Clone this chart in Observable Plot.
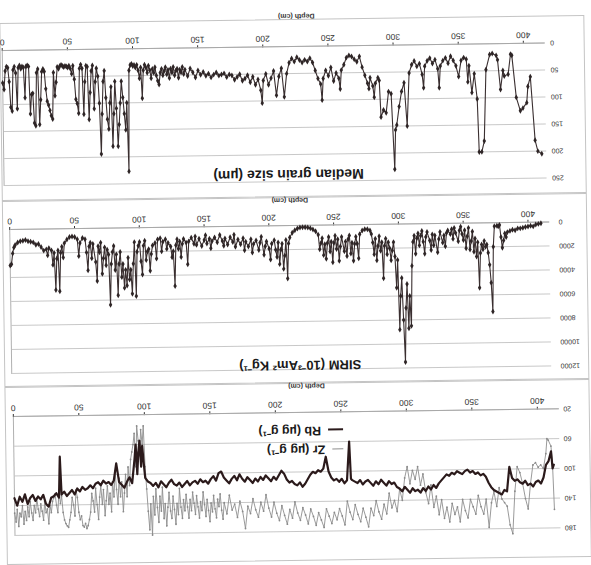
<!DOCTYPE html>
<html><head><meta charset="utf-8">
<script src="https://cdn.jsdelivr.net/npm/d3@7"></script>
<script src="https://cdn.jsdelivr.net/npm/@observablehq/plot@0.6"></script>
<style>
html,body{margin:0;padding:0;background:#fff;}
body{width:591px;height:565px;overflow:hidden;position:relative;}
#page{position:absolute;left:0;top:0;width:591px;height:565px;transform:rotate(179.2deg);transform-origin:50% 50%;font-family:"Liberation Sans",Arial,sans-serif;color:#222;}
.frame{position:absolute;left:3px;width:585px;border:1px solid #c4c4c4;box-sizing:border-box;}
.slot{position:absolute;left:0;width:591px;}
.slot svg{display:block;overflow:visible;}
.title{position:absolute;font-weight:bold;text-align:center;white-space:nowrap;color:#1a1a1a;}
.dlab{position:absolute;font-size:7px;font-weight:bold;text-align:center;width:80px;color:#333;}
.leg{position:absolute;font-size:12.5px;font-weight:bold;white-space:nowrap;color:#1a1a1a;line-height:14px;}
.leg i{display:inline-block;vertical-align:middle;margin-right:7px;}
[aria-label^="x-axis"] text{font-size:8.5px;fill:#333;}
[aria-label^="y-axis"] text{font-size:7px;fill:#333;}
</style>
</head><body>
<div id="page">
  <div class="frame" style="top:4px;height:178px"></div>
  <div class="frame" style="top:182px;height:186px"></div>
  <div class="frame" style="top:368px;height:178px"></div>
  <div class="slot" id="p3" style="top:0px"></div>
  <div class="slot" id="p2" style="top:182px"></div>
  <div class="slot" id="p1" style="top:368px"></div>
  <div class="dlab" style="left:246px;top:175px">Depth (cm)</div>
  <div class="dlab" style="left:260px;top:361px">Depth (cm)</div>
  <div class="dlab" style="left:251px;top:545px">Depth (cm)</div>
  <div class="title" id="t1" style="left:201px;width:200px;top:382px;font-size:14px;line-height:16px"></div>
  <div class="title" id="t2" style="left:192px;width:200px;top:192px;font-size:13px;line-height:16px"></div>
  <div class="leg" id="legZr" style="left:250px;top:108px"></div>
  <div class="leg" id="legRb" style="left:250px;top:127px"></div>
</div>
<script>
const depthTicks = [0,50,100,150,200,250,300,350,400];
const grainTicks = [0,50,100,150,200,250];
const sirmTicks = [0,2000,4000,6000,8000,10000,12000];
const elemTicks = [20,60,100,140,180];

const grainTitle = "Median grain size (µm)";
const sirmTitle = "SIRM (10⁻³Am² Kg⁻¹)";
const depthLabel = "Depth (cm)";
const zrName = "Zr (µg g⁻¹)";
const rbName = "Rb (µg g⁻¹)";

const grainSize = [[0,60],[1,72],[2,38],[3,30],[4,32],[5,58],[6,105],[7,112],[8,36],[9,30],[10,42],[11,108],[12,32],[13,28],[14,34],[15,30],[16,32],[17,88],[18,30],[19,28],[20,30],[21,118],[22,82],[23,80],[24,135],[25,140],[26,42],[27,35],[28,138],[29,92],[30,40],[31,35],[32,40],[33,72],[34,95],[35,102],[36,112],[37,122],[38,128],[39,42],[40,85],[41,60],[42,32],[43,35],[44,30],[45,28],[46,30],[47,32],[48,30],[49,31],[50,33],[51,30],[52,35],[53,45],[54,30],[55,55],[56,92],[57,100],[58,118],[59,35],[60,28],[61,35],[62,120],[63,60],[64,30],[65,32],[66,130],[67,80],[68,40],[69,30],[70,110],[71,60],[72,35],[73,50],[74,100],[75,194],[76,120],[77,60],[78,40],[79,90],[80,130],[81,148],[82,100],[83,70],[84,180],[85,120],[86,60],[87,110],[88,180],[89,140],[90,100],[91,60],[92,90],[93,120],[94,150],[95,100],[96,227],[97,40],[98,30],[99,28],[100,32],[101,30],[102,35],[103,30],[104,40],[105,55],[106,35],[107,92],[108,40],[109,30],[110,35],[111,45],[112,32],[113,40],[114,55],[115,38],[116,45],[117,35],[118,50],[119,60],[120,67],[121,45],[122,38],[123,50],[124,42],[125,35],[126,48],[127,40],[128,55],[129,38],[130,45],[131,35],[132,50],[133,42],[134,38],[135,55],[136,40],[137,45],[138,35],[139,48],[140,40],[142,52],[144,38],[146,45],[148,55],[150,42],[152,50],[154,45],[156,52],[158,48],[160,55],[162,50],[164,46],[166,52],[168,50],[170,48],[172,55],[174,50],[176,52],[178,60],[180,55],[182,50],[184,62],[186,58],[188,52],[190,65],[192,55],[194,70],[196,60],[198,80],[199,104],[200,62],[202,50],[204,70],[206,58],[208,45],[210,90],[212,55],[214,40],[216,93],[218,50],[220,30],[222,22],[224,28],[226,20],[228,25],[230,30],[232,25],[234,28],[236,22],[238,30],[240,45],[242,60],[244,70],[245,100],[246,60],[248,45],[250,55],[252,40],[254,65],[256,50],[258,60],[259,80],[260,45],[262,35],[264,22],[266,18],[268,20],[270,25],[272,30],[274,20],[276,40],[278,55],[280,70],[281,80],[282,60],[284,75],[285,96],[286,70],[288,60],[289,65],[290,133],[292,120],[294,125],[296,86],[298,90],[300,230],[301,157],[302,148],[304,114],[306,86],[308,70],[310,150],[312,52],[314,37],[316,30],[318,40],[320,35],[322,55],[323,80],[324,40],[326,30],[328,25],[330,35],[332,28],[334,45],[335,80],[336,40],[338,30],[340,25],[342,35],[344,22],[346,30],[348,40],[350,60],[352,30],[354,25],[356,28],[357,70],[358,40],[360,90],[362,55],[364,102],[365,200],[367,200],[369,180],[371,48],[374,20],[376,18],[379,22],[380,30],[382,85],[384,50],[385,60],[388,57],[390,20],[391,22],[394,100],[397,125],[399,120],[402,110],[403,80],[405,62],[408,180],[410,200],[413,205]];

const sirm = [[0,3000],[1,2900],[2,2000],[3,1500],[4,1300],[6,1100],[8,1000],[10,950],[12,900],[14,1000],[16,1050],[18,1100],[20,1300],[22,1250],[24,1500],[26,1800],[28,1700],[29,2200],[30,1600],[32,1800],[33,3000],[34,2000],[35,5100],[36,2500],[37,1800],[38,5200],[39,2000],[40,1500],[41,2400],[42,1200],[44,900],[46,700],[48,650],[50,700],[52,900],[53,2300],[54,1200],[56,800],[58,900],[59,2000],[60,3500],[61,1500],[62,1200],[63,2500],[64,1300],[66,2800],[67,4400],[68,1500],[69,2000],[70,1200],[71,3800],[72,2500],[73,1600],[74,3100],[75,1800],[76,2200],[77,6400],[78,3000],[79,2000],[80,1500],[81,3500],[82,2200],[83,5600],[84,3000],[85,2000],[86,4100],[87,3000],[88,5000],[89,3500],[90,4800],[91,2500],[92,4300],[93,3500],[94,5500],[95,3000],[96,1200],[97,5700],[98,2000],[99,1500],[100,1200],[101,2800],[102,3900],[103,1500],[104,1100],[105,2700],[106,2000],[107,1800],[108,3600],[109,2200],[110,1500],[112,1300],[113,2600],[114,1000],[116,900],[117,2000],[118,1200],[120,1000],[121,1800],[122,1300],[124,1600],[125,2500],[126,2000],[127,4900],[128,1500],[129,1000],[130,1800],[131,1200],[132,2500],[133,1400],[134,1000],[136,1300],[137,3100],[138,1200],[140,900],[142,1400],[143,800],[144,1500],[146,1000],[148,1600],[150,1100],[151,700],[152,1400],[154,1000],[155,1800],[156,1200],[158,900],[160,1300],[162,700],[164,1200],[165,1600],[166,1000],[168,1500],[170,900],[172,1300],[173,700],[174,1700],[176,1100],[178,1500],[180,1000],[181,2000],[182,1300],[184,1700],[186,1100],[187,2200],[188,1500],[190,1200],[192,2000],[193,1400],[194,900],[196,2400],[197,1700],[198,1300],[200,1900],[201,2800],[202,1500],[204,1200],[205,2000],[206,2600],[207,1400],[208,3200],[209,2000],[210,1500],[211,3600],[212,2500],[213,1200],[214,4400],[215,1500],[216,1000],[218,600],[220,400],[222,250],[224,180],[226,150],[228,150],[230,180],[232,250],[234,350],[236,500],[238,800],[239,2000],[240,1500],[241,1100],[242,2500],[243,1600],[244,2800],[245,1500],[246,1000],[247,2200],[248,1400],[249,3100],[250,1500],[251,900],[252,2000],[253,1200],[254,3000],[255,1800],[256,1000],[258,2200],[259,1400],[260,2600],[261,1200],[262,900],[263,2400],[264,1500],[265,3000],[266,1600],[267,1000],[268,1600],[269,2800],[270,800],[272,500],[274,400],[276,400],[278,500],[279,800],[280,1500],[281,2500],[282,1200],[283,3000],[284,1800],[285,1000],[286,2200],[287,1500],[288,4500],[289,1800],[290,1200],[291,2500],[292,1500],[293,2000],[294,3000],[295,2200],[296,1500],[297,2700],[298,5300],[299,3000],[300,8800],[301,6000],[302,4500],[303,8000],[304,11500],[305,7000],[306,5000],[307,8700],[308,6000],[309,8500],[310,3500],[311,1500],[312,1000],[313,2500],[314,1200],[315,800],[316,1800],[317,1000],[318,600],[319,1500],[320,2500],[321,1100],[322,700],[324,1400],[325,2200],[326,900],[327,1800],[328,1000],[330,2400],[331,1300],[332,700],[334,1600],[335,1000],[336,1900],[337,800],[338,600],[340,900],[341,500],[342,1300],[343,400],[344,800],[346,1500],[347,600],[348,300],[349,900],[350,1400],[351,600],[352,2100],[353,1100],[354,400],[355,2200],[356,1500],[357,700],[358,2400],[359,1300],[360,2800],[361,1600],[362,5400],[363,2500],[364,1800],[365,2200],[366,1500],[367,2000],[368,1800],[369,2500],[370,3500],[371,5000],[372,7400],[373,2000],[374,300],[376,250],[377,300],[378,200],[379,1200],[380,2100],[381,1500],[382,900],[383,1200],[384,800],[386,700],[388,600],[390,650],[392,500],[394,500],[396,450],[398,400],[400,350],[402,300],[404,350],[406,200],[408,150],[410,100]];

const rb = [[0,130],[2,140],[4,128],[6,135],[8,125],[10,138],[12,130],[14,126],[16,134],[18,128],[20,132],[22,126],[24,138],[26,142],[28,130],[30,128],[32,124],[34,130],[35,75],[36,126],[38,122],[40,128],[42,124],[44,120],[46,126],[48,118],[50,122],[52,116],[54,120],[56,118],[58,114],[60,118],[62,112],[64,110],[66,114],[68,108],[70,112],[72,110],[74,114],[76,108],[78,85],[80,110],[82,114],[84,118],[86,110],[88,104],[90,112],[92,80],[93,60],[94,100],[95,70],[96,55],[97,90],[98,62],[99,85],[100,105],[102,110],[104,112],[106,116],[108,112],[110,118],[112,110],[114,114],[116,118],[118,112],[120,108],[122,114],[124,116],[126,112],[128,118],[130,114],[132,110],[134,116],[136,112],[138,110],[140,114],[142,108],[144,112],[146,110],[148,114],[150,108],[152,104],[154,110],[156,100],[158,98],[160,106],[162,110],[164,114],[166,108],[168,104],[170,110],[172,102],[174,108],[176,112],[178,106],[180,110],[182,114],[184,108],[186,112],[188,106],[190,110],[192,104],[194,108],[196,112],[198,106],[200,110],[202,104],[204,98],[206,102],[208,110],[210,114],[212,112],[214,116],[216,118],[218,114],[220,120],[222,116],[224,110],[226,104],[228,100],[230,102],[232,98],[234,100],[236,96],[238,80],[240,100],[242,108],[244,112],[246,110],[248,114],[250,110],[252,116],[254,112],[256,60],[257,110],[258,112],[260,114],[262,116],[264,112],[266,118],[268,114],[270,112],[272,116],[274,120],[276,114],[278,118],[280,112],[282,116],[284,120],[286,114],[288,118],[290,116],[292,122],[294,124],[296,128],[298,122],[300,126],[302,130],[304,124],[306,128],[308,126],[310,130],[312,124],[314,128],[316,122],[318,126],[320,120],[322,124],[324,118],[326,114],[328,110],[330,106],[332,108],[334,104],[336,106],[338,102],[340,104],[342,106],[344,102],[346,100],[348,104],[350,102],[352,106],[354,104],[356,108],[358,106],[360,110],[362,118],[364,124],[366,128],[368,130],[370,132],[372,134],[374,128],[376,130],[378,97],[380,112],[382,116],[384,114],[386,118],[388,120],[390,116],[392,122],[394,120],[396,124],[398,118],[400,116],[402,120],[404,112],[406,95],[408,90],[410,77],[411,100],[412,95]];

const zr = [[0,150],[1,162],[2,145],[3,168],[4,150],[5,155],[6,140],[7,165],[8,148],[9,160],[10,142],[11,155],[12,135],[13,150],[14,160],[15,140],[16,150],[17,130],[18,145],[19,155],[20,138],[21,148],[22,160],[23,135],[24,150],[25,145],[26,165],[27,140],[28,150],[29,135],[30,130],[31,125],[32,140],[33,150],[34,120],[35,138],[36,128],[37,150],[38,160],[39,165],[40,168],[41,170],[42,160],[43,150],[44,130],[45,140],[46,155],[47,120],[48,130],[49,150],[50,160],[51,155],[52,168],[53,170],[54,165],[55,172],[56,168],[57,160],[58,150],[59,125],[60,135],[61,150],[62,118],[63,140],[64,160],[65,130],[66,115],[67,140],[68,120],[69,155],[70,135],[71,115],[72,140],[73,125],[74,150],[75,110],[76,130],[77,95],[78,120],[79,140],[80,105],[81,130],[82,110],[83,150],[84,125],[85,100],[86,130],[87,90],[88,115],[89,80],[90,70],[91,60],[92,45],[93,90],[94,35],[95,55],[96,75],[97,40],[98,60],[99,35],[100,90],[101,120],[102,150],[103,175],[104,140],[105,182],[106,130],[107,155],[108,120],[109,145],[110,165],[111,130],[112,150],[113,118],[114,160],[115,140],[116,170],[117,145],[118,125],[119,150],[120,160],[121,130],[122,148],[123,168],[124,140],[125,155],[126,120],[127,145],[128,160],[129,135],[130,150],[131,128],[132,145],[133,160],[134,135],[135,150],[136,125],[137,140],[138,155],[139,130],[140,145],[141,160],[142,138],[143,150],[144,125],[145,142],[146,158],[147,135],[148,150],[149,165],[150,140],[151,152],[152,130],[153,148],[154,160],[155,135],[156,145],[157,128],[158,150],[159,162],[160,140],[162,155],[164,130],[166,150],[168,142],[170,160],[172,138],[174,152],[176,175],[178,145],[180,155],[182,135],[184,150],[186,160],[188,140],[190,152],[192,130],[194,148],[196,160],[198,140],[200,155],[202,165],[204,145],[206,158],[208,170],[210,150],[212,162],[214,140],[216,155],[218,165],[220,148],[222,158],[224,170],[226,150],[228,160],[230,172],[232,155],[234,165],[236,175],[238,150],[240,160],[242,170],[244,155],[246,165],[248,150],[250,160],[252,172],[254,140],[256,155],[258,165],[260,145],[262,158],[264,168],[266,150],[268,162],[270,175],[272,150],[274,160],[276,140],[278,155],[280,165],[282,145],[284,158],[286,130],[288,150],[290,140],[292,155],[294,125],[296,140],[298,110],[300,95],[302,118],[304,100],[306,112],[308,95],[310,120],[312,105],[314,130],[316,145],[318,120],[320,150],[322,135],[324,160],[326,140],[328,165],[330,150],[332,170],[334,145],[336,160],[338,150],[340,170],[342,140],[344,155],[346,165],[348,140],[350,150],[352,160],[354,135],[356,150],[358,160],[360,140],[362,178],[364,145],[366,130],[368,150],[370,125],[372,140],[374,145],[376,150],[378,175],[380,187],[382,130],[384,97],[386,105],[388,120],[390,140],[392,154],[394,120],[396,95],[398,92],[400,98],[402,95],[404,100],[406,80],[407,60],[408,62],[410,70],[411,95],[412,155]];

const X = d => d[0], Y = d => d[1];
const fmt = d => String(d);
const gridColor = "#c2c2c2";

function panel(o) {
  return Plot.plot({
    width: 591, height: o.height,
    marginLeft: o.ml, marginRight: o.mr, marginTop: o.mt, marginBottom: o.mb,
    style: {background: "transparent", fontFamily: "Liberation Sans, Arial, sans-serif", fontSize: "8px", color: "#333", overflow: "visible"},
    x: {domain: [0, 416], reverse: true, ticks: depthTicks, tickFormat: fmt, tickSize: 3, tickPadding: 2, label: null},
    y: {domain: o.domain, ticks: o.ticks, tickFormat: fmt, tickSize: 0, tickPadding: o.tp, label: null},
    marks: [
      Plot.ruleY(o.ticks, {stroke: gridColor, strokeWidth: 0.9}),
      Plot.ruleY([o.domain[0]], {stroke: "#a8a8a8", strokeWidth: 1}),
      Plot.ruleX([0], {stroke: "#b0b0b0", strokeWidth: 1}),
      ...o.marks
    ]
  });
}

document.getElementById("p1").append(panel({
  height: 197, ml: 43, mr: 6, mt: 15, mb: 47, tp: 6,
  domain: [0, 250], ticks: grainTicks,
  marks: [
    Plot.line(grainSize, {x: X, y: Y, stroke: "#3a2f30", strokeWidth: 1.1}),
    Plot.dot(grainSize, {x: X, y: Y, symbol: "diamond", r: 1.8, fill: "#2e2526", stroke: "none"})
  ]
}));

document.getElementById("p2").append(panel({
  height: 186, ml: 41, mr: 11, mt: 13, mb: 29, tp: 10,
  domain: [0, 12000], ticks: sirmTicks,
  marks: [
    Plot.line(sirm, {x: X, y: Y, stroke: "#3a2f30", strokeWidth: 1.1}),
    Plot.dot(sirm, {x: X, y: Y, symbol: "diamond", r: 1.8, fill: "#2e2526", stroke: "none"})
  ]
}));

document.getElementById("p3").append(panel({
  height: 182, ml: 34, mr: 12, mt: 33, mb: 30, tp: 5,
  domain: [20, 180], ticks: elemTicks,
  marks: [
    Plot.line(zr, {x: X, y: Y, stroke: "#8f8f8f", strokeWidth: 0.9}),
    Plot.dot(zr, {x: X, y: Y, r: 0.9, fill: "#8a8a8a", stroke: "none"}),
    Plot.line(rb, {x: X, y: Y, stroke: "#2b1a1b", strokeWidth: 2.2})
  ]
}));

document.getElementById("t1").textContent = grainTitle;
document.getElementById("t2").textContent = sirmTitle;
document.getElementById("legRb").innerHTML = '<i style="width:15px;height:2px;background:#2b1a1b"></i>' + rbName;
document.getElementById("legZr").innerHTML = '<i style="width:11px;height:1px;background:#8f8f8f"></i>' + zrName;
document.querySelectorAll(".dlab").forEach(e => e.textContent = depthLabel);
</script>
</body></html>
